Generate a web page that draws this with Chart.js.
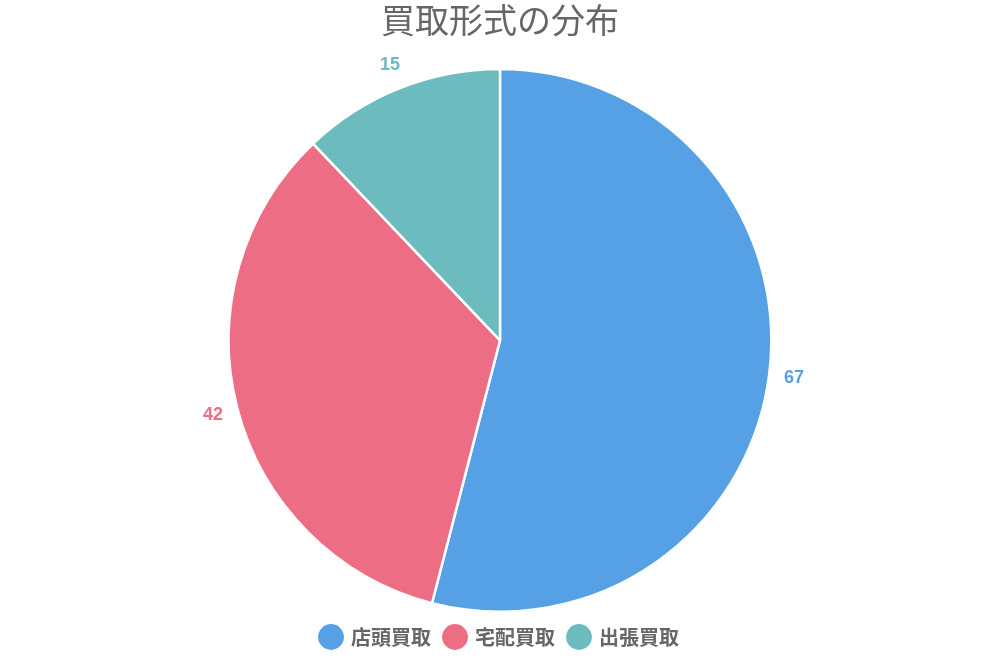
<!DOCTYPE html>
<html>
<head>
<meta charset="utf-8">
<script src="https://cdn.jsdelivr.net/npm/chart.js@4/dist/chart.umd.min.js"></script>
<style>
html,body{margin:0;padding:0;background:#fff;}
#wrap{width:1000px;height:667px;}
</style>
</head>
<body>
<div id="wrap"><canvas id="c" width="1000" height="667"></canvas></div>
<script>
const categories = ["店頭買取", "宅配買取", "出張買取"];
const values = [67, 42, 15];
const colors = ["#56a1e5", "#ed6d85", "#6cbbbe"];
const titleText = "買取形式の分布";

const labelPlugin = {
  id: 'outLabels',
  afterDatasetsDraw(chart) {
    const ctx = chart.ctx;
    const meta = chart.getDatasetMeta(0);
    ctx.save();
    ctx.font = "bold 18px 'Liberation Sans', Arial, sans-serif";
    ctx.textAlign = 'center';
    ctx.textBaseline = 'middle';
    meta.data.forEach((arc, i) => {
      const p = arc.getProps(['x','y','startAngle','endAngle','outerRadius'], true);
      const mid = (p.startAngle + p.endAngle) / 2;
      const r = p.outerRadius + 25;
      ctx.fillStyle = colors[i];
      ctx.fillText(String(values[i]), p.x + Math.cos(mid) * r, p.y + Math.sin(mid) * r);
    });
    ctx.restore();
  }
};

new Chart(document.getElementById('c'), {
  type: 'pie',
  data: {
    labels: categories,
    datasets: [{
      data: values,
      backgroundColor: colors,
      borderColor: '#ffffff',
      borderWidth: 2.5
    }]
  },
  options: {
    responsive: false,
    animation: false,
    layout: { padding: { top: 0, bottom: 10, left: 0, right: 0 } },
    plugins: {
      title: {
        display: true,
        text: titleText,
        color: '#666666',
        font: { size: 34, weight: 'normal', family: "'Noto Sans CJK JP', sans-serif", lineHeight: 1.2 },
        padding: { top: 0, bottom: 27 }
      },
      legend: {
        position: 'bottom',
        labels: {
          usePointStyle: true,
          pointStyle: 'circle',
          color: '#666666',
          font: { size: 20, weight: 'bold', family: "'Noto Sans CJK JP', sans-serif" },
          padding: 14
        }
      },
      tooltip: { enabled: false }
    }
  },
  plugins: [labelPlugin]
});
</script>
</body>
</html>
